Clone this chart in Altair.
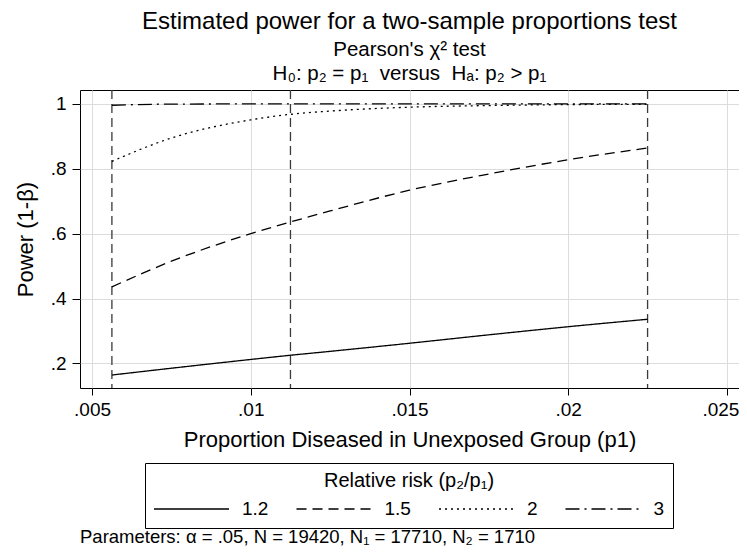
import altair as alt
import pandas as pd

# ---- data ----
p1 = [0.005625, 0.0075, 0.01, 0.01125, 0.0125, 0.015, 0.0175, 0.02, 0.0225]
power_12 = [0.164, 0.185, 0.212, 0.225, 0.237, 0.262, 0.288, 0.313, 0.336]
power_15 = [0.436, 0.515, 0.600, 0.636, 0.670, 0.734, 0.784, 0.828, 0.864]
power_2 = [0.823, 0.895, 0.951, 0.968, 0.978, 0.990, 0.995, 0.998, 0.999]
power_3 = [0.996, 0.9995, 1.0, 1.0, 1.0, 1.0, 1.0, 1.0, 1.0]
rr_labels = ["1.2", "1.5", "2", "3"]
ref_lines = [0.005625, 0.01125, 0.0225]
x_ticks = [0.005, 0.01, 0.015, 0.02, 0.025]
y_ticks = [0.2, 0.4, 0.6, 0.8, 1.0]

title_text = "Estimated power for a two-sample proportions test"
subtitle_lines = ["Pearson's \u03c7\u00b2 test",
                  "H\u2080: p\u2082 = p\u2081 \u00a0versus \u00a0H\u2090: p\u2082 > p\u2081"]
x_title = "Proportion Diseased in Unexposed Group (p1)"
y_title = "Power (1-\u03b2)"
legend_title = "Relative risk (p\u2082/p\u2081)"
note_text = "Parameters: \u03b1 = .05, N = 19420, N\u2081 = 17710, N\u2082 = 1710"

FONT = "Liberation Sans"

rows = []
for label, series in zip(rr_labels, [power_12, power_15, power_2, power_3]):
    for x, y in zip(p1, series):
        rows.append({"p1": x, "power": y, "rr": label})
df = pd.DataFrame(rows)
ref_df = pd.DataFrame({"p1": ref_lines})
note_df = pd.DataFrame({"t": [note_text]})

x_scale = alt.Scale(domain=[0.00462, 0.02538], nice=False, zero=False)
y_scale = alt.Scale(domain=[0.124, 1.043], nice=False, zero=False)

last_tick = "datum.value > 0.024"
x_axis = alt.Axis(values=x_ticks, labelExpr="substring(format(datum.value, '.3~f'), 1)",
                  title=x_title, tickSize=7, labelPadding=5, titlePadding=10,
                  labelFontSize=19, titleFontSize=22,
                  labelAlign={"condition": {"test": last_tick, "value": "right"}, "value": "center"},
                  labelOffset={"condition": {"test": last_tick, "value": 12}, "value": 0})
y_axis = alt.Axis(values=y_ticks,
                  labelExpr="datum.value >= 1 ? '1' : substring(format(datum.value, '.1f'), 1)",
                  title=y_title, tickSize=8, labelPadding=6, titlePadding=13,
                  labelFontSize=19, titleFontSize=22)

rules = alt.Chart(ref_df).mark_rule(color="#3a3a3a", strokeWidth=1.3, strokeDash=[9, 5]).encode(
    x=alt.X("p1:Q", scale=x_scale, axis=x_axis),
)

lines = alt.Chart(df).mark_line(color="black", strokeWidth=1.3, interpolate="monotone").encode(
    x=alt.X("p1:Q", scale=x_scale, axis=x_axis),
    y=alt.Y("power:Q", scale=y_scale, axis=y_axis),
    strokeDash=alt.StrokeDash(
        "rr:N",
        scale=alt.Scale(domain=rr_labels, range=[[1, 0], [10, 6], [2, 4], [14, 5, 2, 5]]),
        legend=alt.Legend(
            title=legend_title, orient="none", legendX=65, legendY=373,
            direction="horizontal", columns=4, symbolType="stroke", symbolSize=5625,
            symbolStrokeWidth=1.3, symbolStrokeColor="black", clipHeight=22,
            labelOffset=12, columnPadding=26.5, padding=8, strokeColor="black",
            fillColor="white", titleAnchor="middle", titleAlign="center",
            titleFontSize=20, labelFontSize=19, titleFontWeight="normal",
            titlePadding=7, titleFont=FONT, labelFont=FONT,
            titleColor="black", labelColor="black",
        ),
    ),
    detail="rr:N",
)

note = alt.Chart(note_df).mark_text(align="left", baseline="middle", fontSize=18.5, font=FONT,
                                    color="black").encode(
    x=alt.value(0), y=alt.value(447), text="t:N"
)

chart = alt.layer(rules, lines, note).properties(
    width=659,
    height=298,
    autosize=alt.AutoSizeParams(type="none"),
    padding={"left": 72, "top": 82, "right": 0, "bottom": 160},
    title=alt.TitleParams(
        text=title_text, subtitle=subtitle_lines, anchor="middle",
        fontSize=24, subtitleFontSize=20.5, fontWeight="normal", font=FONT,
        subtitleFont=FONT, color="black", subtitleColor="black",
        offset=5, subtitlePadding=6, subtitleLineHeight=24,
    ),
).configure_view(stroke="black", strokeWidth=1).configure_axis(
    gridColor="#dcdcdc", gridWidth=1, tickColor="black", domain=False,
    labelFont=FONT, titleFont=FONT, labelColor="black", titleColor="black",
    titleFontWeight="normal",
)

chart.save("out.html", embed_options={"renderer": "svg", "actions": False})
